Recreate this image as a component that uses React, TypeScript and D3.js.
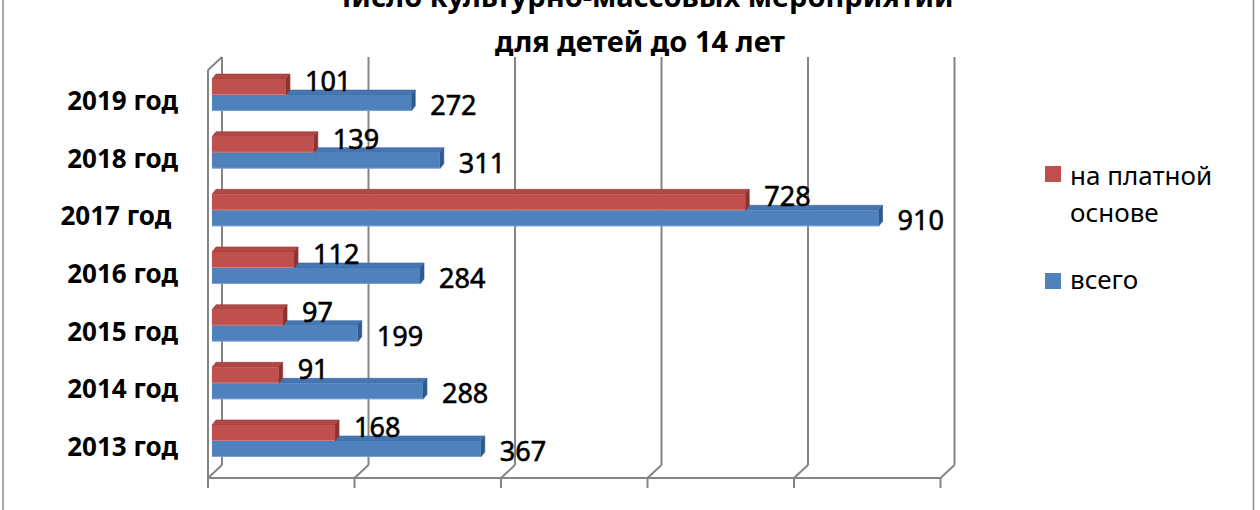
import React from "react";
import * as d3 from "d3";

const categories = ["2019 год", "2018 год", "2017 год ", "2016 год", "2015 год", "2014 год", "2013 год"];
const paidValues = [101, 139, 728, 112, 97, 91, 168];
const totalValues = [272, 311, 910, 284, 199, 288, 367];
const xTicks = [0, 200, 400, 600, 800, 1000];
const titleLines = ["Число культурно-массовых мероприятий", "для детей до 14 лет"];
const seriesNames = ["на платной основе", "всего"];

const W = 1260;
const H = 510;
const FONT = "'Noto Sans', 'Open Sans', sans-serif";
const GRID = "#858585";

// 3D offsets
const WALL_DX = 14;
const WALL_DY = 13;
const BAR_DX = 4;
const BAR_DY = 5;
const BAR_SHIFT = 4;
const BAR_H = 16;

const RED = { front: "#C0504D", top: "#B04744", side: "#8C3330", edge: "#9E3B38" };
const BLUE = { front: "#4F81BD", top: "#4576B2", side: "#2E5A8C", edge: "#3A689F" };

function Bar({ x0, x1, top, bottom, c }: { x0: number; x1: number; top: number; bottom: number; c: typeof RED }) {
  const topFace = [
    [x0, top],
    [x0 + BAR_DX, top - BAR_DY],
    [x1 + BAR_DX, top - BAR_DY],
    [x1, top],
  ];
  const sideFace = [
    [x1, top],
    [x1 + BAR_DX, top - BAR_DY],
    [x1 + BAR_DX, bottom - BAR_DY],
    [x1, bottom],
  ];
  const pts = (p: number[][]) => p.map((q) => q.join(",")).join(" ");
  return (
    <g>
      <polygon points={pts(topFace)} fill={c.top} stroke={c.edge} strokeWidth={0.6} />
      <polygon points={pts(sideFace)} fill={c.side} stroke={c.side} strokeWidth={0.6} />
      <rect x={x0} y={top} width={x1 - x0} height={bottom - top} fill={c.front} />
      <line x1={x0} x2={x1} y1={bottom - 0.5} y2={bottom - 0.5} stroke="#ffffff" strokeOpacity={0.25} strokeWidth={1} />
    </g>
  );
}

export default function App() {
  const x = d3.scaleLinear().domain([0, 1000]).range([208, 940.5]);
  const y = d3.scaleBand<string>().domain(categories).range([66.2, 469.8]).padding(0);
  const floorY = 478;
  const wallTop = 70;
  const step = y.step();

  return (
    <div style={{ position: "fixed", left: 0, top: 0 }}>
      <svg width={W} height={H} style={{ display: "block", background: "#ffffff" }} fontFamily={FONT}>
        {/* outer chart frame */}
        <line x1={3} x2={3} y1={0} y2={H} stroke="#8c8c8c" strokeWidth={1.5} />
        <line x1={1253.5} x2={1253.5} y1={0} y2={H} stroke="#8c8c8c" strokeWidth={1.5} />

        {/* title (top line is cropped in the reference) */}
        <text x={642} y={7} textAnchor="middle" fontSize={29} fontWeight="bold" fill="#000">
          {titleLines[0]}
        </text>
        <text x={640} y={52} textAnchor="middle" fontSize={29} fontWeight="bold" fill="#000">
          {titleLines[1]}
        </text>

        {/* walls, gridlines and floor */}
        <g stroke={GRID} strokeWidth={2} fill="none">
          <line x1={x(0)} x2={x(0)} y1={wallTop} y2={floorY} />
          <line x1={x(0)} x2={x(0) + WALL_DX} y1={wallTop} y2={wallTop - WALL_DY} />
          {xTicks.map((t) => (
            <line key={"g" + t} x1={x(t) + WALL_DX} x2={x(t) + WALL_DX} y1={wallTop - WALL_DY} y2={floorY - WALL_DY} />
          ))}
          {xTicks.map((t) => (
            <line key={"f" + t} x1={x(t)} x2={x(t) + WALL_DX} y1={floorY} y2={floorY - WALL_DY} />
          ))}
          <line x1={x(0)} x2={x(1000)} y1={floorY} y2={floorY} />
          {xTicks.map((t) => (
            <line key={"t" + t} x1={x(t)} x2={x(t)} y1={floorY} y2={floorY + 10} />
          ))}
        </g>

        {/* bars */}
        {categories.map((cat, i) => {
          const c = (y(cat) as number) + step / 2;
          const x0 = x(0) + BAR_SHIFT;
          return (
            <g key={cat}>
              <Bar x0={x0} x1={x(totalValues[i]) + BAR_SHIFT} top={c} bottom={c + BAR_H} c={BLUE} />
              <Bar x0={x0} x1={x(paidValues[i]) + BAR_SHIFT} top={c - BAR_H} bottom={c} c={RED} />
            </g>
          );
        })}

        {/* data labels */}
        {categories.map((cat, i) => {
          const c = (y(cat) as number) + step / 2;
          return (
            <g key={"l" + cat} fontSize={27} fill="#000" stroke="#000" strokeWidth={0.6}>
              <text x={x(paidValues[i]) + BAR_SHIFT + 19} y={c - 4}>
                {paidValues[i]}
              </text>
              <text x={x(totalValues[i]) + BAR_SHIFT + 19} y={c + 20}>
                {totalValues[i]}
              </text>
            </g>
          );
        })}

        {/* category labels */}
        {categories.map((cat) => {
          const c = (y(cat) as number) + step / 2;
          return (
            <text
              key={"c" + cat}
              x={178}
              y={c + 15}
              textAnchor="end"
              fontSize={26}
              fontWeight="bold"
              fill="#000"
              style={{ whiteSpace: "pre" }}
            >
              {cat}
            </text>
          );
        })}

        {/* legend */}
        <g fontSize={26} fill="#000">
          <rect x={1045} y={166} width={16} height={16} fill={RED.front} />
          <text x={1070} y={185}>на платной</text>
          <text x={1070} y={222}>основе</text>
          <rect x={1045} y={273} width={16} height={16} fill={BLUE.front} />
          <text x={1070} y={289}>{seriesNames[1]}</text>
        </g>
      </svg>
    </div>
  );
}
